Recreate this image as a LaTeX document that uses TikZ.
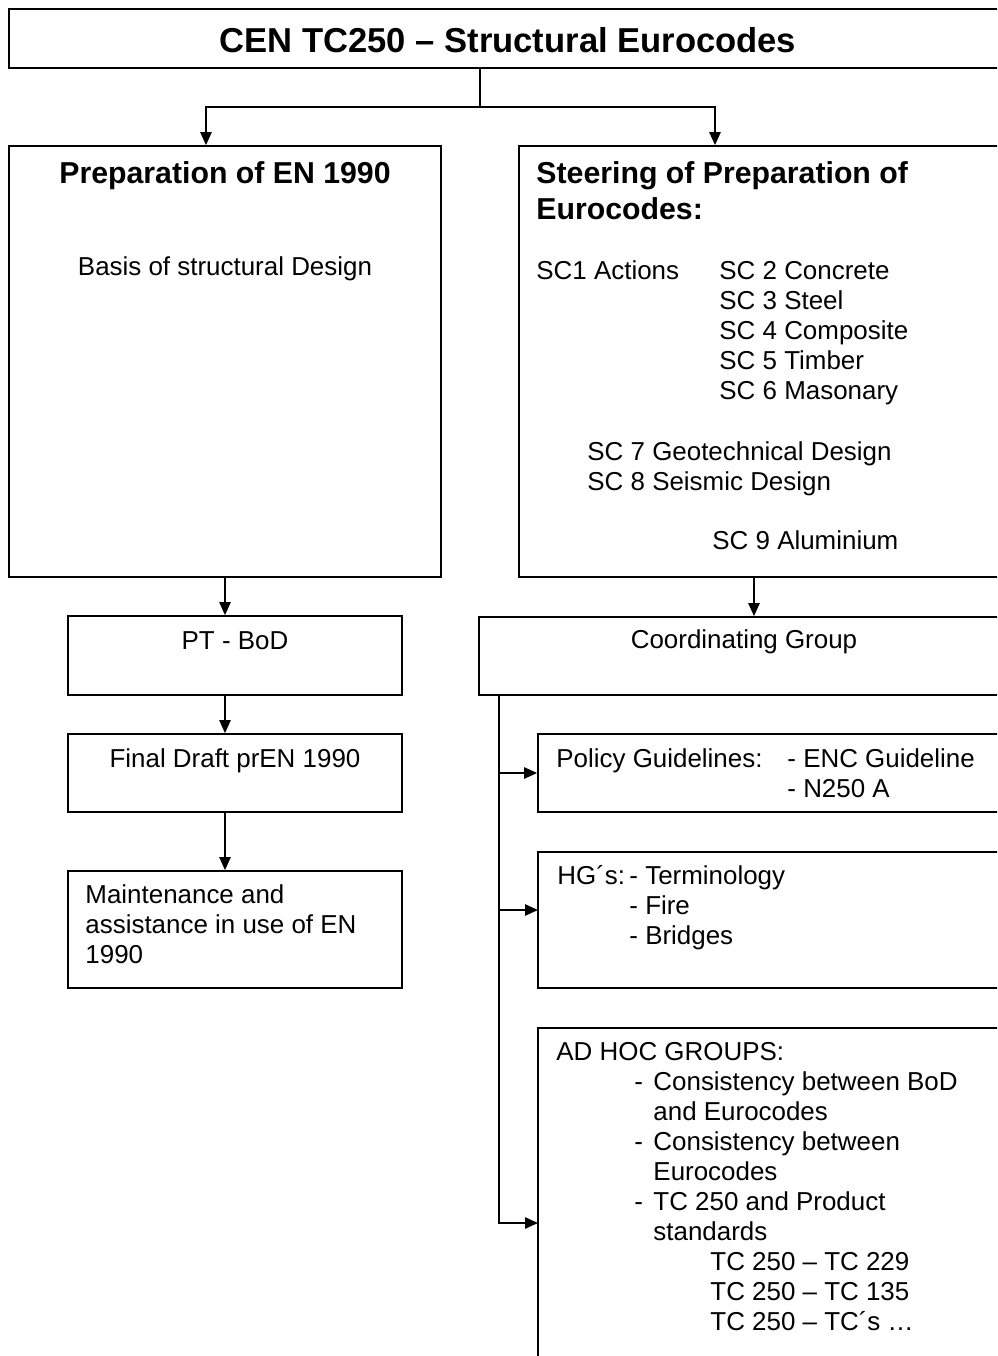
\documentclass[tikz,border=0pt]{standalone}
\usepackage{fontspec}
\setmainfont{Liberation Sans}
\usetikzlibrary{arrows.meta,fit}

\newcommand{\adhocdash}{\makebox[8.8pt][l]{-}}

\begin{document}
\begin{tikzpicture}[x=0.4627pt,y=-0.4627pt,
  box/.style={draw,line width=0.8pt,inner sep=0pt},
  txt/.style={inner sep=0pt,align=left,font=\fontsize{12}{13.88}\selectfont},
  head/.style={inner sep=0pt,align=left,font=\fontsize{14}{16.66}\selectfont\bfseries},
  line/.style={line width=0.8pt},
  arr/.style={line width=0.8pt,-{Triangle[length=6pt,width=5.2pt]}}]
\useasboundingbox (0,0) rectangle (997,1356);
\clip (0,0) rectangle (997,1356);

\node[box,fit={(9,9) (1010,68)}] (title) {};
\node[box,fit={(9,146) (441,577)}] (prep) {};
\node[box,fit={(519,146) (1010,577)}] (steer) {};
\node[box,fit={(68,616) (402,695)}] (ptbod) {};
\node[box,fit={(68,734) (402,812)}] (draft) {};
\node[box,fit={(68,871) (402,988)}] (maint) {};
\node[box,fit={(479,617) (1010,695)}] (coord) {};
\node[box,fit={(538,734) (1010,812)}] (policy) {};
\node[box,fit={(538,852) (1010,988)}] (hg) {};
\node[box,fit={(538,1028) (1010,1370)}] (adhoc) {};

% texts (multi-line ones placed by their last baseline)
\node[inner sep=0pt,anchor=base,font=\fontsize{16}{18.4}\selectfont\bfseries] (titletxt) at (508,52) {CEN TC250 – Structural Eurocodes};
\node[head,anchor=base] (preptxt) at (225,183) {Preparation of EN 1990};
\node[txt,anchor=base] (basis) at (225,275) {Basis of structural Design};
\node[head,anchor=base west] (steertxt) at (536,219) {Steering of Preparation of\\Eurocodes:};
\node[txt,anchor=base west] (sc1) at (536,279) {SC1 Actions};
\node[txt,anchor=base west] (sc2) at (719,399) {SC 2 Concrete\\SC 3 Steel\\SC 4 Composite\\SC 5 Timber\\SC 6 Masonary};
\node[txt,anchor=base west] (sc7) at (587,490) {SC 7 Geotechnical Design\\SC 8 Seismic Design};
\node[txt,anchor=base west] (sc9) at (712,549) {SC 9 Aluminium};
\node[txt,anchor=base] (pttxt) at (235,649) {PT - BoD};
\node[txt,anchor=base] (drafttxt) at (235,767) {Final Draft prEN 1990};
\node[txt,anchor=base west] (mainttxt) at (85,963) {Maintenance and\\assistance in use of EN\\1990};
\node[txt,anchor=base] (coordtxt) at (744,648) {Coordinating Group};
\node[txt,anchor=base west] (poltxt) at (556,767) {Policy Guidelines:};
\node[txt,anchor=base west] (pollist) at (787,797) {- ENC Guideline\\- N250 A};
\node[txt,anchor=base west] (hgtxt) at (557,884) {HG´s:};
\node[txt,anchor=base west] (hglist) at (629,944) {- Terminology\\- Fire\\- Bridges};
\node[txt,anchor=base west] (adhoctxt) at (556,1060) {AD HOC GROUPS:};
\node[txt,anchor=base west] (adhoclist) at (634,1240) {\adhocdash Consistency between BoD\\\hspace*{8.8pt}and Eurocodes\\\adhocdash Consistency between\\\hspace*{8.8pt}Eurocodes\\\adhocdash TC 250 and Product\\\hspace*{8.8pt}standards};
\node[txt,anchor=base west] (tclist) at (710,1330) {TC 250 – TC 229\\TC 250 – TC 135\\TC 250 – TC´s …};

% connectors
\coordinate (fork) at (480,107);
\coordinate (lcol) at (206,107);
\coordinate (rcol) at (715,107);
\draw[line] (title.south -| fork) -- (fork);
\draw[arr] (fork) -| (lcol |- prep.north);
\draw[arr] (fork) -| (rcol |- steer.north);
\draw[arr] (prep.south) -- (prep.south |- ptbod.north);
\draw[arr] (ptbod.south -| prep.south) -- (prep.south |- draft.north);
\draw[arr] (draft.south -| prep.south) -- (prep.south |- maint.north);
\coordinate (sdrop) at (754,0);
\draw[arr] (steer.south -| sdrop) -- (sdrop |- coord.north);
\coordinate (spine) at (499,0);
\coordinate (hgin) at (538,910);
\coordinate (adin) at (538,1223);
\draw[arr] (coord.south -| spine) |- (adin);
\draw[arr] (spine |- policy.west) -- (policy.west);
\draw[arr] (spine |- hgin) -- (hgin);
\end{tikzpicture}
\end{document}
